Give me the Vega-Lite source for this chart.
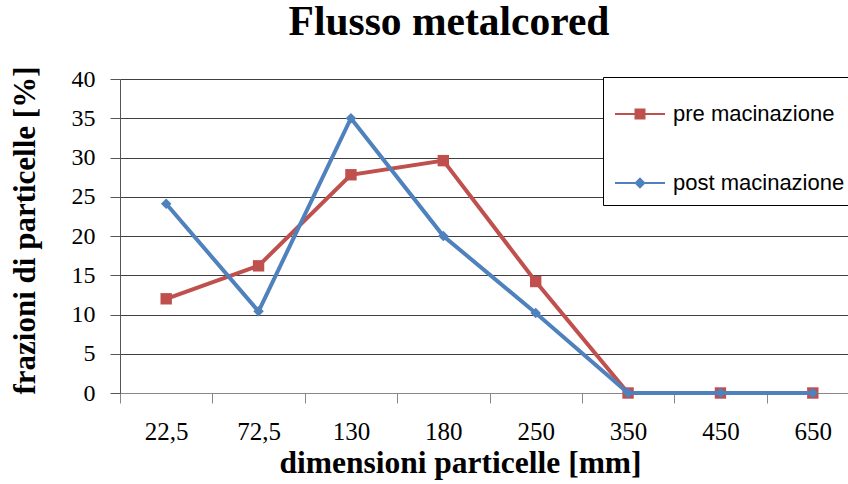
{
  "$schema": "https://vega.github.io/schema/vega-lite/v6.json",
  "autosize": {"type": "none"},
  "width": 728,
  "height": 314,
  "padding": {"left": 120, "top": 79, "right": 0, "bottom": 91},
  "background": "white",
  "title": {
    "text": "Flusso metalcored",
    "font": "Liberation Serif",
    "fontSize": 41.5,
    "fontWeight": "bold",
    "color": "black",
    "anchor": "middle",
    "frame": "group",
    "baseline": "alphabetic",
    "dx": -35,
    "dy": 10,
    "offset": 0
  },
  "config": {
    "view": {"stroke": null}
  },
  "data": {
    "values": [
      {"dim": "22,5", "serie": "pre macinazione", "valore": 12.0},
      {"dim": "72,5", "serie": "pre macinazione", "valore": 16.2},
      {"dim": "130", "serie": "pre macinazione", "valore": 27.8},
      {"dim": "180", "serie": "pre macinazione", "valore": 29.6},
      {"dim": "250", "serie": "pre macinazione", "valore": 14.2},
      {"dim": "350", "serie": "pre macinazione", "valore": 0},
      {"dim": "450", "serie": "pre macinazione", "valore": 0},
      {"dim": "650", "serie": "pre macinazione", "valore": 0},
      {"dim": "22,5", "serie": "post macinazione", "valore": 24.1},
      {"dim": "72,5", "serie": "post macinazione", "valore": 10.4},
      {"dim": "130", "serie": "post macinazione", "valore": 35.0},
      {"dim": "180", "serie": "post macinazione", "valore": 20.0},
      {"dim": "250", "serie": "post macinazione", "valore": 10.2},
      {"dim": "350", "serie": "post macinazione", "valore": 0},
      {"dim": "450", "serie": "post macinazione", "valore": 0},
      {"dim": "650", "serie": "post macinazione", "valore": 0}
    ]
  },
  "encoding": {
    "x": {
      "field": "dim",
      "type": "nominal",
      "sort": ["22,5", "72,5", "130", "180", "250", "350", "450", "650"],
      "scale": {"type": "band", "paddingInner": 0, "paddingOuter": 0, "range": [0, 739]},
      "axis": {
        "title": "dimensioni particelle [mm]",
        "titleFont": "Liberation Serif",
        "titleFontSize": 31.5,
        "titleFontWeight": "bold",
        "titleColor": "black",
        "titleX": 340,
        "titleY": 79,
        "titleBaseline": "alphabetic",
        "titleAlign": "center",
        "labelFont": "Liberation Serif, Times New Roman, serif",
        "labelFontSize": 25,
        "labelFontWeight": "normal",
        "labelColor": "black",
        "labelAngle": 0,
        "labelPadding": 16,
        "tickBand": "extent",
        "tickSize": 10,
        "tickColor": "#888888",
        "domainColor": "#888888",
        "grid": false
      }
    },
    "y": {
      "field": "valore",
      "type": "quantitative",
      "scale": {"domain": [0, 40], "nice": false},
      "axis": {
        "title": "frazioni di particelle [%]",
        "titleFont": "Liberation Serif",
        "titleFontSize": 31,
        "titleFontWeight": "bold",
        "titleColor": "black",
        "titleX": -86,
        "titleY": 151,
        "titleAngle": 270,
        "titleBaseline": "alphabetic",
        "titleAlign": "center",
        "labelFont": "Liberation Serif, Times New Roman, serif",
        "labelFontSize": 24,
        "labelFontWeight": "normal",
        "labelColor": "black",
        "labelPadding": 15,
        "values": [0, 5, 10, 15, 20, 25, 30, 35, 40],
        "tickSize": 10,
        "tickColor": "#555555",
        "domainColor": "#555555",
        "grid": true,
        "gridColor": "#404040",
        "gridWidth": 1
      }
    },
    "color": {
      "field": "serie",
      "type": "nominal",
      "scale": {"domain": ["pre macinazione", "post macinazione"], "range": ["#C0504D", "#4F81BD"]},
      "legend": {
        "title": null,
        "orient": "none",
        "legendX": 483,
        "legendY": -2,
        "padding": 11,
        "strokeColor": "black",
        "fillColor": "white",
        "labelFont": "Liberation Sans",
        "labelFontSize": 22,
        "labelColor": "black",
        "labelOffset": 7,
        "labelLimit": 400,
        "rowPadding": 32,
        "symbolSize": 2500,
        "symbolStrokeWidth": 2,
        "encode": {
          "symbols": {
            "update": {
              "shape": {"signal": "datum.value === 'pre macinazione' ? 'M-1,0L1,0M-0.18,-0.18L0.18,-0.18L0.18,0.18L-0.18,0.18Z' : 'M-1,0L1,0M0,-0.17L0.17,0L0,0.17L-0.17,0Z'"},
              "fill": {"signal": "datum.value === 'pre macinazione' ? '#C0504D' : '#4F81BD'"},
              "stroke": {"signal": "datum.value === 'pre macinazione' ? '#C0504D' : '#4F81BD'"},
              "fillOpacity": {"value": 1},
              "strokeWidth": {"value": 2}
            }
          }
        }
      }
    }
  },
  "layer": [
    {
      "transform": [{"filter": "datum.serie === 'pre macinazione'"}],
      "mark": {"type": "line", "strokeWidth": 4}
    },
    {
      "transform": [{"filter": "datum.serie === 'pre macinazione'"}],
      "mark": {"type": "point", "shape": "square", "filled": true, "opacity": 1, "size": 130}
    },
    {
      "transform": [{"filter": "datum.serie === 'post macinazione'"}],
      "mark": {"type": "line", "strokeWidth": 4}
    },
    {
      "transform": [{"filter": "datum.serie === 'post macinazione'"}],
      "mark": {"type": "point", "shape": "diamond", "filled": true, "opacity": 1, "size": 110}
    }
  ]
}
